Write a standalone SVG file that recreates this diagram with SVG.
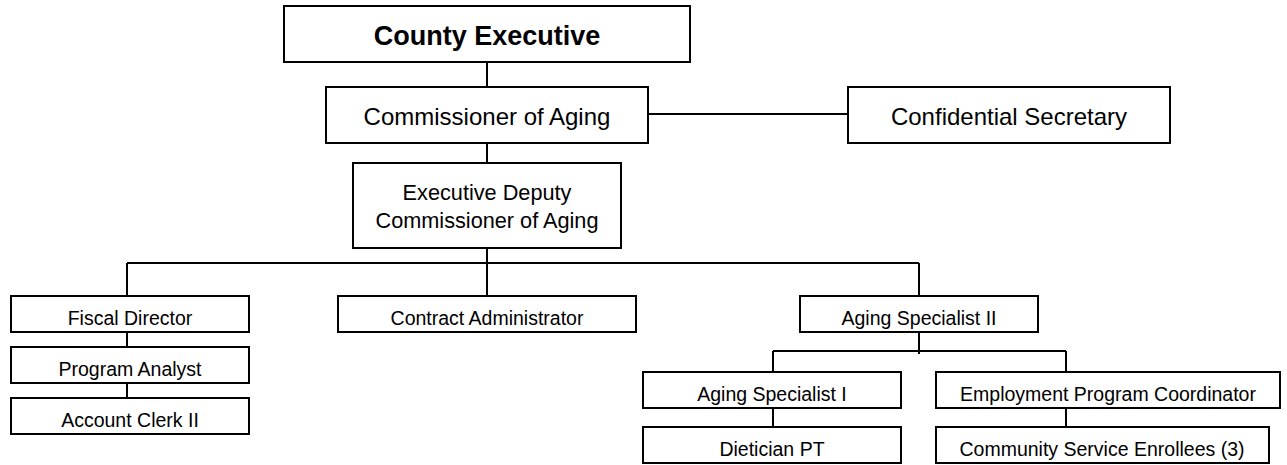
<svg xmlns="http://www.w3.org/2000/svg" width="1287" height="465" viewBox="0 0 1287 465">
<style>
.box{fill:#fff;stroke:#000;stroke-width:2}
.ln{fill:none;stroke:#000;stroke-width:2}
text{font-family:"Liberation Sans",Arial,sans-serif;fill:#000;text-anchor:middle}
.t1{font-size:27px;font-weight:bold}
.t2{font-size:24px}
.t3{font-size:21.7px}
.t4{font-size:19.5px}
</style>
<rect width="1287" height="465" fill="#fff"/>
<g id="connectors">
<path class="ln" d="M487 62V87M648 114H848M487 143V163M487 248V263M127 263H919M127 263V296M487 263V296M919 263V296M127 332V347M127 383V398M919 332V354M773 351H1066M773 351V372M1066 351V372M773 408V427M1066 408V427"/>
</g>
<g id="county-executive"><rect class="box" x="284" y="6" width="406" height="56"/><text class="t1" x="487" y="45">County Executive</text></g>
<g id="commissioner"><rect class="box" x="326" y="87" width="322" height="56"/><text class="t2" x="487" y="125">Commissioner of Aging</text></g>
<g id="confidential-secretary"><rect class="box" x="848" y="87" width="322" height="56"/><text class="t2" x="1009" y="125">Confidential Secretary</text></g>
<g id="executive-deputy"><rect class="box" x="353" y="163" width="268" height="85"/><text class="t3" x="487" y="200">Executive Deputy</text><text class="t3" x="487" y="228">Commissioner of Aging</text></g>
<g id="fiscal-director"><rect class="box" x="11" y="296" width="238" height="36"/><text class="t4" x="130" y="324.5">Fiscal Director</text></g>
<g id="program-analyst"><rect class="box" x="11" y="347" width="238" height="36"/><text class="t4" x="130" y="375.5">Program Analyst</text></g>
<g id="account-clerk"><rect class="box" x="11" y="398" width="238" height="36"/><text class="t4" x="130" y="426.5">Account Clerk II</text></g>
<g id="contract-administrator"><rect class="box" x="338" y="296" width="298" height="36"/><text class="t4" x="487" y="324.5">Contract Administrator</text></g>
<g id="aging-specialist-2"><rect class="box" x="800" y="296" width="238" height="36"/><text class="t4" x="919" y="324.5">Aging Specialist II</text></g>
<g id="aging-specialist-1"><rect class="box" x="643" y="372" width="258" height="36"/><text class="t4" x="772" y="400.5">Aging Specialist I</text></g>
<g id="employment-coordinator"><rect class="box" x="936" y="372" width="344" height="36"/><text class="t4" x="1108" y="400.5">Employment Program Coordinator</text></g>
<g id="dietician"><rect class="box" x="643" y="427" width="258" height="36"/><text class="t4" x="772" y="455.5">Dietician PT</text></g>
<g id="community-service"><rect class="box" x="936" y="427" width="333" height="36"/><text class="t4" x="1102" y="455.5">Community Service Enrollees (3)</text></g>
</svg>
